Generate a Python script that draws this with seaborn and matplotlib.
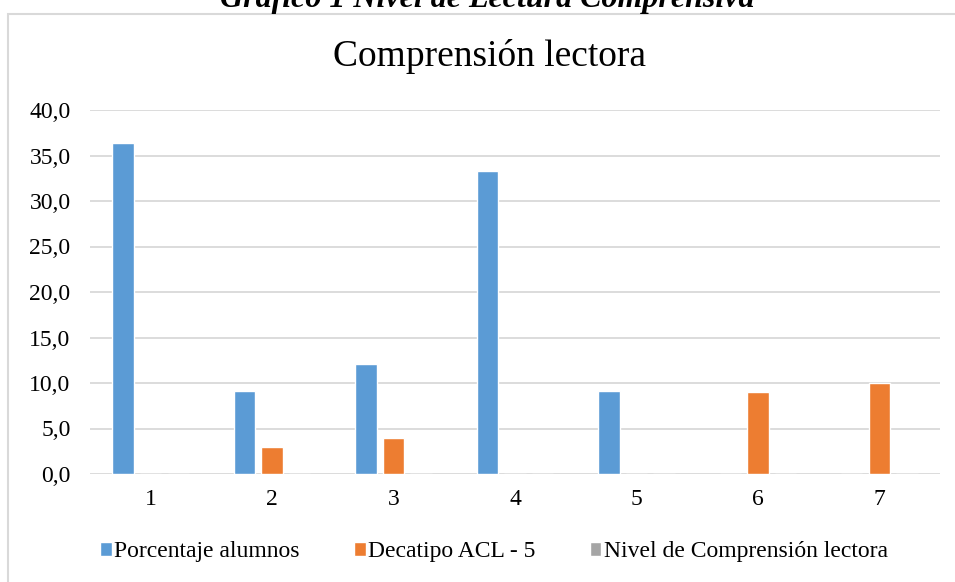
import matplotlib
matplotlib.use("Agg")
import matplotlib.pyplot as plt
from matplotlib.patches import Rectangle
import seaborn as sns
import pandas as pd

# Data
categorias = ["1", "2", "3", "4", "5", "6", "7"]
porcentaje_alumnos = [36.4, 9.1, 12.1, 33.3, 9.1, 0.0, 0.0]
decatipo_acl5 = [0.0, 3.0, 4.0, 0.0, 0.0, 9.0, 10.0]
nivel_comprension = [0.0, 0.0, 0.0, 0.0, 0.0, 0.0, 0.0]

series = ["Porcentaje alumnos", "Decatipo ACL - 5", "Nivel de Comprensión lectora"]
colores = ["#5B9BD5", "#ED7D31", "#A5A5A5"]

df = pd.DataFrame({
    "cat": categorias * 3,
    "valor": porcentaje_alumnos + decatipo_acl5 + nivel_comprension,
    "serie": [series[0]] * 7 + [series[1]] * 7 + [series[2]] * 7,
})

sns.set_style("white")
plt.rcParams["font.family"] = ["Liberation Serif", "DejaVu Serif"]
plt.rcParams["text.color"] = "black"

fig = plt.figure(figsize=(9.55, 5.82), dpi=100)
ax = fig.add_axes([90 / 955, 1 - 474 / 582, 850 / 955, 364 / 582])

sns.barplot(data=df, x="cat", y="valor", hue="serie", palette=colores,
            width=0.68, gap=0.22, ax=ax, saturation=1)

ax.set_ylim(0, 40)
ax.set_yticks(range(0, 41, 5))
ax.set_yticklabels([f"{v:.1f}".replace(".", ",") for v in range(0, 41, 5)])
ax.set_xlim(-0.5, 6.5)
ax.grid(axis="y", color="#d9d9d9", linewidth=1.3)
ax.set_axisbelow(True)
for s in ax.spines.values():
    s.set_visible(False)
ax.tick_params(axis="both", length=0, labelsize=17, colors="black")
ax.tick_params(axis="x", pad=11)
ax.tick_params(axis="y", pad=14)
ax.set_xlabel("")
ax.set_ylabel("")

handles, labels = ax.get_legend_handles_labels()
ax.get_legend().remove()
fig.legend(handles, labels, loc="center", bbox_to_anchor=(0.517, 1 - 552 / 582),
           ncol=3, frameon=False, fontsize=17, handlelength=0.5, handleheight=0.5,
           handletextpad=0.1, columnspacing=2.3)

fig.text(0.513, 1 - 57 / 582, "Comprensión lectora", ha="center", va="center", fontsize=27)

# chart frame and cropped caption above it
fig.add_artist(Rectangle((8 / 955, -0.01), 1.05, 1 - 14 / 582 + 0.01,
                         transform=fig.transFigure, fill=False,
                         edgecolor="#d9d9d9", linewidth=1.5))
fig.text(0.51, 1 - 7 / 582, "Gráfico 1 Nivel de Lectura Comprensiva", ha="center",
         va="baseline", fontsize=23, fontweight="bold", fontstyle="italic")

fig.savefig("out.png", dpi=100)
